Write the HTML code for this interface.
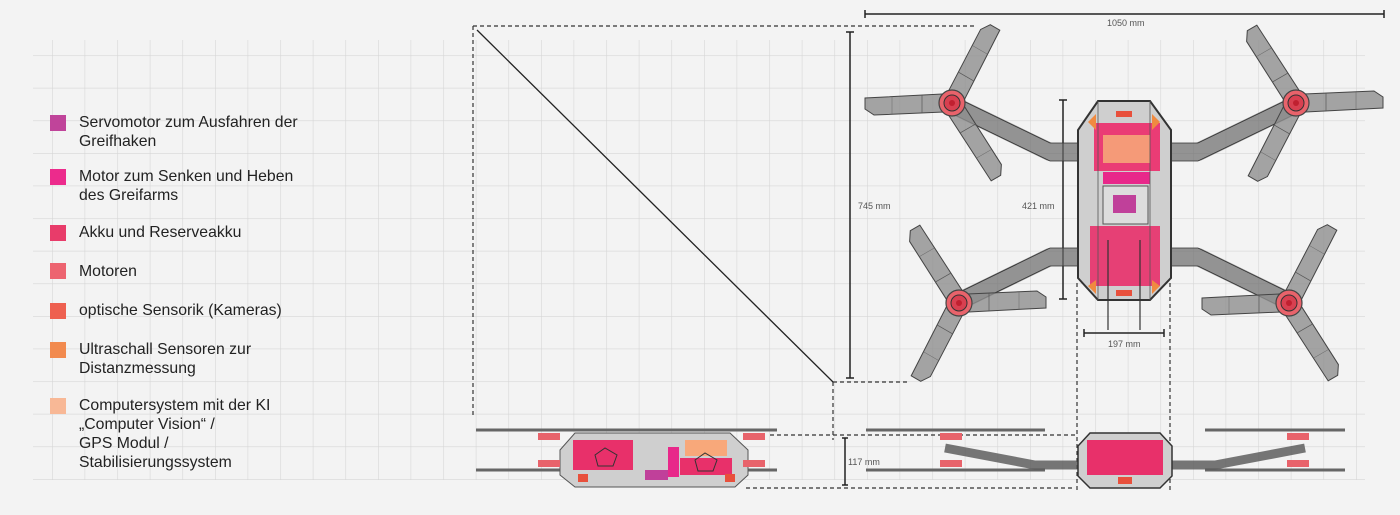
<!DOCTYPE html>
<html><head><meta charset="utf-8"><style>
body{margin:0;width:1400px;height:515px;background:#f3f3f3;overflow:hidden;font-family:"Liberation Sans",sans-serif;position:relative}
svg{position:absolute;left:0;top:0}
.lg{position:absolute;left:79px;font-size:15.8px;line-height:19px;color:#222}
.sq{position:absolute;left:50px;width:16px;height:16px}
</style></head><body>
<svg width="1400" height="515" viewBox="0 0 1400 515">
<defs>
<pattern id="g" x="19.4" y="22.6" width="32.6" height="32.6" patternUnits="userSpaceOnUse">
<path d="M0 0V32.6M0 0H32.6" stroke="#d6d6d6" stroke-width="1.2" fill="none"/>
</pattern>
<g id="blade"><polygon points="8,-9 78,-12 87,-6 87,5 10,9" fill="#8e8e8e" fill-opacity="0.8" stroke="#444" stroke-width="1"/><line x1="30" y1="-10" x2="30" y2="8" stroke="#555" stroke-width="0.7"/><line x1="60" y1="-11" x2="60" y2="6" stroke="#666" stroke-width="0.5"/></g>
<g id="hub"><circle r="13" fill="#e8636b" stroke="#444" stroke-width="1.2"/><circle r="8" fill="#d84050" stroke="#333" stroke-width="1"/><circle r="3" fill="#c02030"/></g>
</defs>
<rect x="33" y="40" width="1332" height="440" fill="url(#g)"/>
<g stroke="#333" stroke-width="1.2" stroke-dasharray="4,3" fill="none">
<path d="M473 26H976"/><path d="M473 26V418"/><path d="M833 382H908"/><path d="M833 382V440"/>
<path d="M1077 283V490"/><path d="M1170 283V490"/>
<path d="M770 435H1075"/><path d="M746 488H1075"/>
</g>
<line x1="477" y1="30" x2="833" y2="382" stroke="#222" stroke-width="1.3"/>
<g stroke="#222" stroke-width="1.5">
<path d="M865 14H1384M865 10V18M1384 10V18"/>
<path d="M850 32V378M846 32H854M846 378H854"/>
<path d="M1063 100V299M1059 100H1067M1059 299H1067"/>
<path d="M1084 333H1164M1084 329V337M1164 329V337"/>
<path d="M845 438V485M842 438H848M842 485H848"/>
</g>
<g font-size="9" fill="#555" font-family="Liberation Sans,sans-serif">
<text x="1107" y="26">1050 mm</text>
<text x="858" y="209">745 mm</text>
<text x="1022" y="209">421 mm</text>
<text x="1108" y="347">197 mm</text>
<text x="848" y="465">117 mm</text>
</g>
<g stroke="#6a6a6a" stroke-width="18" fill="none" stroke-opacity="0.7" stroke-linejoin="round">
<path d="M955 106L1050 152H1082"/><path d="M1293 106L1198 152H1166"/>
<path d="M962 300L1050 257H1082"/><path d="M1286 300L1198 257H1166"/>
</g>
<g stroke="#333" stroke-width="0.8" fill="none">
<path d="M955 97L1050 143H1082M955 115L1050 161H1082"/><path d="M1293 97L1198 143H1166M1293 115L1198 161H1166"/>
<path d="M962 291L1050 248H1082M962 309L1050 266H1082"/><path d="M1286 291L1198 248H1166M1286 309L1198 266H1166"/>
</g>
<polygon points="1098,101 1150,101 1171,130 1171,278 1150,300 1098,300 1078,278 1078,130" fill="#cfcfcf" stroke="#333" stroke-width="2"/>
<rect x="1094" y="123" width="66" height="48" fill="#ec2b6a" opacity="0.9"/>
<rect x="1103" y="135" width="47" height="28" fill="#f59a78"/>
<rect x="1103" y="172" width="47" height="12" fill="#e8288a"/>
<rect x="1116" y="111" width="16" height="6" fill="#e8503c"/>
<polygon points="1088,122 1096,114 1096,130" fill="#f08a40"/><polygon points="1160,122 1152,114 1152,130" fill="#f08a40"/>
<rect x="1103" y="186" width="45" height="38" fill="#ddd" stroke="#555"/>
<rect x="1113" y="195" width="23" height="18" fill="#c0409a"/>
<rect x="1090" y="226" width="70" height="60" fill="#e8306a" opacity="0.9"/>
<rect x="1116" y="290" width="16" height="6" fill="#e8503c"/>
<polygon points="1088,286 1096,294 1096,280" fill="#f08a40"/><polygon points="1160,286 1152,294 1152,280" fill="#f08a40"/>
<path d="M1108 240V330M1140 240V330" stroke="#333" stroke-width="1.2"/>
<path d="M1098 101V300M1150 101V300" stroke="#555" stroke-width="0.8"/>
<g transform="translate(952,103)"><use href="#blade" transform="rotate(180)"/><use href="#blade" transform="rotate(-60)"/><use href="#blade" transform="rotate(60)"/><use href="#hub"/></g>
<g transform="translate(1296,103)"><use href="#blade" transform="rotate(0)"/><use href="#blade" transform="rotate(-120)"/><use href="#blade" transform="rotate(120)"/><use href="#hub"/></g>
<g transform="translate(959,303)"><use href="#blade" transform="rotate(0)"/><use href="#blade" transform="rotate(-120)"/><use href="#blade" transform="rotate(120)"/><use href="#hub"/></g>
<g transform="translate(1289,303)"><use href="#blade" transform="rotate(180)"/><use href="#blade" transform="rotate(-60)"/><use href="#blade" transform="rotate(60)"/><use href="#hub"/></g>
<g stroke="#666" stroke-width="3" fill="none"><path d="M476 430H625M476 470H625M610 430H777M610 470H777"/></g>
<polygon points="575,433 730,433 748,450 748,475 735,487 575,487 560,475 560,450" fill="#cfcfcf" stroke="#555"/>
<rect x="573" y="440" width="60" height="30" fill="#e8306a"/>
<rect x="685" y="440" width="42" height="16" fill="#f8a87a"/>
<rect x="680" y="458" width="52" height="17" fill="#e8306a"/>
<rect x="668" y="447" width="11" height="30" fill="#e8288a"/>
<rect x="645" y="470" width="23" height="10" fill="#c0409a"/>
<rect x="578" y="474" width="10" height="8" fill="#e8503c"/><rect x="725" y="474" width="10" height="8" fill="#e8503c"/>
<polygon points="595,455 605,448 617,455 613,466 598,466" fill="none" stroke="#333"/>
<polygon points="695,460 705,453 717,460 713,471 698,471" fill="none" stroke="#333"/>
<g fill="#e8636b"><rect x="538" y="433" width="22" height="7"/><rect x="538" y="460" width="22" height="7"/><rect x="743" y="433" width="22" height="7"/><rect x="743" y="460" width="22" height="7"/></g>
<g stroke="#666" stroke-width="3" fill="none"><path d="M866 430H1045M866 470H1045M1205 430H1345M1205 470H1345"/></g>
<g stroke="#555" stroke-width="9" fill="none" stroke-opacity="0.8"><path d="M945 448L1035 465H1080M1305 448L1215 465H1170"/></g>
<g fill="#e8636b"><rect x="940" y="433" width="22" height="7"/><rect x="940" y="460" width="22" height="7"/><rect x="1287" y="433" width="22" height="7"/><rect x="1287" y="460" width="22" height="7"/></g>
<polygon points="1090,433 1160,433 1172,446 1172,476 1160,488 1090,488 1078,476 1078,446" fill="#cfcfcf" stroke="#333" stroke-width="1.5"/>
<rect x="1087" y="440" width="76" height="35" fill="#e8306a"/>
<rect x="1118" y="477" width="14" height="7" fill="#e8503c"/>
</svg>
<div class="sq" style="top:115px;background:#c0449a"></div><div class="lg" style="top:113px">Servomotor zum Ausfahren der<br>Greifhaken</div>
<div class="sq" style="top:169px;background:#ec2b8c"></div><div class="lg" style="top:167px">Motor zum Senken und Heben<br>des Greifarms</div>
<div class="sq" style="top:225px;background:#e83c6a"></div><div class="lg" style="top:223px">Akku und Reserveakku</div>
<div class="sq" style="top:263px;background:#ed6470"></div><div class="lg" style="top:262px">Motoren</div>
<div class="sq" style="top:303px;background:#ee6050"></div><div class="lg" style="top:301px">optische Sensorik (Kameras)</div>
<div class="sq" style="top:342px;background:#f28a4e"></div><div class="lg" style="top:340px">Ultraschall Sensoren zur<br>Distanzmessung</div>
<div class="sq" style="top:398px;background:#f8b896"></div><div class="lg" style="top:396px">Computersystem mit der KI<br>„Computer Vision“ /<br>GPS Modul /<br>Stabilisierungssystem</div>
</body></html>
